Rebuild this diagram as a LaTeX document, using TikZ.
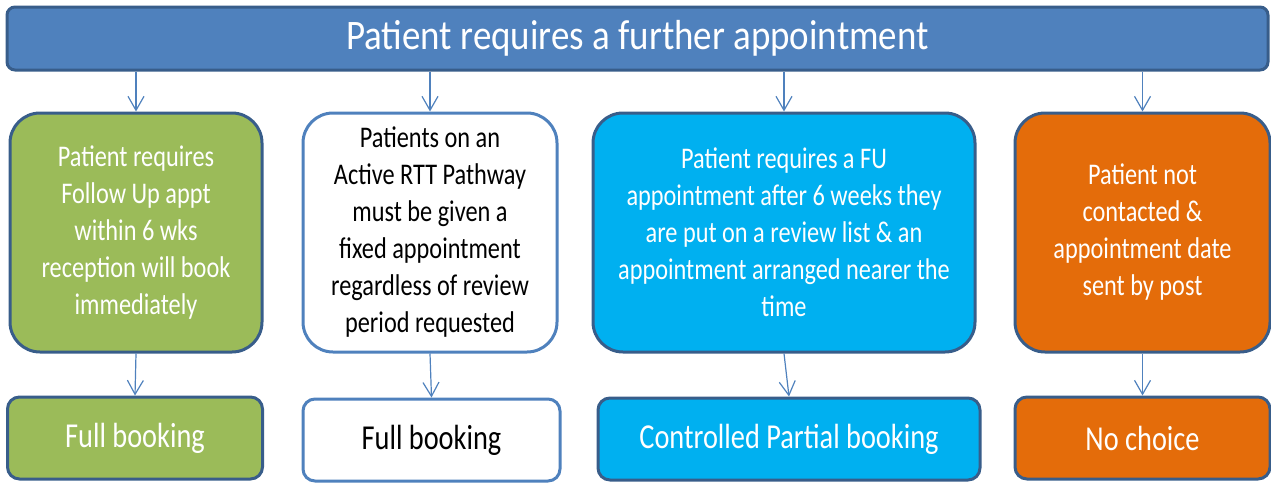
\documentclass[tikz,border=0pt]{standalone}
\usepackage{fontspec}
\setmainfont{Carlito}[FakeStretch=0.81]
\newfontfamily\headfont{Carlito}[FakeStretch=0.88]
\usetikzlibrary{arrows.meta}

\definecolor{barblue}{HTML}{4F81BD}
\definecolor{edgeblue}{HTML}{385D8A}
\definecolor{okgreen}{HTML}{9BBB59}
\definecolor{skyblue}{HTML}{00B0F0}
\definecolor{warnorange}{HTML}{E46C0A}

\begin{document}
\begin{tikzpicture}[x=1pt,y=-1pt,
    cond/.style={rounded corners=30pt,minimum height=239pt,font=\fontsize{30}{37}\selectfont},
    book/.style={rounded corners=12pt,minimum height=82pt,font=\fontsize{35}{40}\selectfont},
    arr/.style={draw=barblue,line width=1.2pt,-{Straight Barb[length=14pt,width=16pt,line width=1.2pt]}}]
    \useasboundingbox (0,0) rectangle (1271,482);
    \begin{scope}[every node/.style={draw=edgeblue,line width=3pt,align=center,text=white,inner sep=2pt}]
    % Header
    \node[fill=barblue,rounded corners=8pt,minimum width=1261pt,minimum height=63pt,
          font=\headfont\fontsize{42}{48}\selectfont] (top) at (637.5,38.5)
          {Patient requires a further appointment};

    % Conditions
    \node[cond,fill=okgreen,minimum width=252pt] (c1) at (136,232.5)
          {Patient requires\\Follow Up appt\\within 6 wks\\reception will book\\immediately};
    \node[cond,fill=white,draw=barblue,text=black,minimum width=254pt] (c2) at (430,232.5)
          {Patients on an\\Active RTT Pathway\\must be given a\\fixed appointment\\regardless of review\\period requested};
    \node[cond,fill=skyblue,minimum width=382pt] (c3) at (784,232.5)
          {Patient requires a FU\\appointment after 6 weeks they\\are put on a review list \& an\\appointment arranged nearer the\\time};
    \node[cond,fill=warnorange,minimum width=255pt] (c4) at (1142.5,232.5)
          {Patient not\\contacted \&\\appointment date\\sent by post};

    % Bookings
    \node[book,fill=okgreen,minimum width=255pt] (b1) at (135,438) {Full booking};
    \node[book,fill=white,draw=barblue,text=black,minimum width=257pt] (b2) at (431.5,440) {Full booking};
    \node[book,fill=skyblue,minimum width=382pt] (b3) at (789,439) {Controlled Partial booking};
    \node[book,fill=warnorange,minimum width=255pt] (b4) at (1142.5,438) {No choice};
    \end{scope}

    \draw[arr] (c1 |- top.south) -- (c1.north);
    \draw[arr] (c2 |- top.south) -- (c2.north);
    \draw[arr] (c3 |- top.south) -- (c3.north);
    \draw[arr] (c4 |- top.south) -- (c4.north);
    \draw[arr] (c1.south) -- (b1.north);
    \draw[arr] (c2.south) -- (b2.north);
    \draw[arr] (c3.south) -- (b3.north);
    \draw[arr] (c4.south) -- (b4.north);
\end{tikzpicture}
\end{document}
